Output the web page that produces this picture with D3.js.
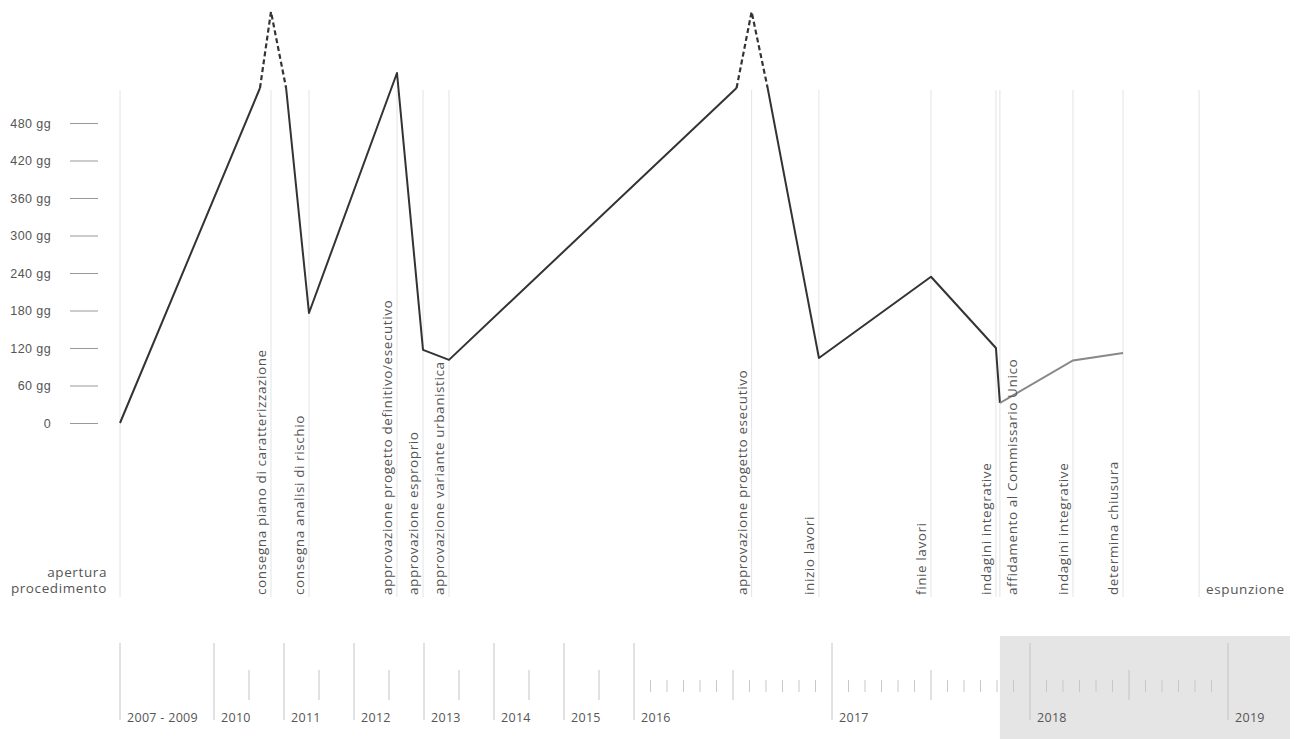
<!DOCTYPE html>
<html>
<head>
<meta charset="utf-8">
<script src="https://cdn.jsdelivr.net/npm/d3@7"></script>
<style>
	body { margin: 0; background: #fff; }
	svg { display: block; font-family: 'Open Sans', 'Noto Sans', sans-serif; }
	.ylab text { font-size: 12.5px; letter-spacing: 0.4px; fill: #555; }
	.event-label { font-size: 13.5px; letter-spacing: 0.6px; fill: #555; }
	.year-label { font-size: 12.5px; letter-spacing: 0.3px; fill: #555; }
</style>
</head>
<body>
<svg id="chart" width="1298" height="739"></svg>
<script>
'use strict';

// year blocks on the bottom timeline
var yearStarts = [2007, 2010, 2011, 2012, 2013, 2014, 2015, 2016, 2017, 2018, 2019, 2020];
var yearLabels = ['2007 - 2009', '2010', '2011', '2012', '2013', '2014', '2015', '2016', '2017', '2018', '2019'];
var monthlyYears = [2016, 2017, 2018];

// events (decimal years)
var eventLabels = ['apertura procedimento', 'consegna piano di caratterizzazione', 'consegna analisi di rischio',
	'approvazione progetto definitivo/esecutivo', 'approvazione esproprio', 'approvazione variante urbanistica',
	'approvazione progetto esecutivo', 'inizio lavori', 'finie lavori', 'indagini integrative',
	'affidamento al Commissario Unico', 'indagini integrative', 'determina chiusura', 'espunzione'];
var eventDates = [2007.0, 2010.814, 2011.357, 2012.614, 2012.986, 2013.357, 2016.594, 2016.934, 2017.5,
	2017.828, 2017.848, 2018.217, 2018.47, 2018.854];

// duration line (days); peaks are out of scale
var durDates = [2007.0, 2010.657, 2010.814, 2011.03, 2011.357, 2012.614, 2012.986, 2013.357, 2016.518,
	2016.594, 2016.675, 2016.934, 2017.5, 2017.828, 2017.848];
var durDays = [0, 536, 658, 536, 176, 560, 117, 101, 536, 658, 536, 104, 234, 120, 32];
var peakIdx = [2, 9];

// ongoing part after the Commissario Unico
var openDates = [2017.848, 2018.217, 2018.47];
var openDays = [32, 100, 112];

var yTicks = [0, 60, 120, 180, 240, 300, 360, 420, 480];

var svg = d3.select('#chart');

// piecewise time scale: older years compressed, 2016+ expanded
function yearSpan(y) {
	if (y === 2007) return 94;
	if (y < 2016) return 70;
	return 198;
}
var xRange = [120];
for (var i = 1; i < yearStarts.length; i++) {
	xRange.push(xRange[i - 1] + yearSpan(yearStarts[i - 1]));
}
var x = d3.scaleLinear().domain(yearStarts).range(xRange);
var y = d3.scaleLinear().domain([0, 480]).range([423, 123]);

var lineTop = 90;
var lineBottom = 597;

// shaded period (commissario)
svg.append('rect')
	.attr('x', x(eventDates[10]))
	.attr('y', 636)
	.attr('width', 1290 - x(eventDates[10]))
	.attr('height', 739 - 636)
	.attr('fill', '#e5e5e5');

// event vertical lines
svg.selectAll('line.event').data(eventDates).enter().append('line')
	.attr('class', 'event')
	.attr('x1', function (d) { return x(d); })
	.attr('x2', function (d) { return x(d); })
	.attr('y1', lineTop)
	.attr('y2', lineBottom)
	.attr('stroke', '#e4e4e4')
	.attr('stroke-width', 1);

// y axis
var yAxis = d3.axisLeft(y).tickValues(yTicks).tickSize(28).tickPadding(19)
	.tickFormat(function (d) { return d === 0 ? '0' : d + ' gg'; });
var yg = svg.append('g').attr('class', 'ylab').attr('transform', 'translate(98,0)').call(yAxis);
yg.select('.domain').remove();
yg.selectAll('.tick line').attr('stroke', '#999');

// duration line
var line = d3.line()
	.x(function (d) { return x(d[0]); })
	.y(function (d) { return y(d[1]); });
var pts = durDates.map(function (d, i) { return [d, durDays[i]]; });

svg.append('path')
	.datum(pts)
	.attr('d', line.defined(function (d, i) { return peakIdx.indexOf(i) < 0; }))
	.attr('fill', 'none')
	.attr('stroke', '#333')
	.attr('stroke-width', 2)
	.attr('stroke-linejoin', 'round');

line.defined(function () { return true; });
peakIdx.forEach(function (p) {
	svg.append('path')
		.datum(pts.slice(p - 1, p + 2))
		.attr('d', line)
		.attr('fill', 'none')
		.attr('stroke', '#333')
		.attr('stroke-width', 2.2)
		.attr('stroke-dasharray', '5,3');
});

svg.append('path')
	.datum(openDates.map(function (d, i) { return [d, openDays[i]]; }))
	.attr('d', line)
	.attr('fill', 'none')
	.attr('stroke', '#888')
	.attr('stroke-width', 2);

// event labels
eventLabels.forEach(function (lab, i) {
	var ex = x(eventDates[i]);
	if (i === 0) {
		var t = svg.append('text').attr('class', 'event-label').attr('text-anchor', 'end');
		t.append('tspan').attr('x', ex - 13).attr('y', 577).text('apertura');
		t.append('tspan').attr('x', ex - 13).attr('y', 593).text('procedimento');
	} else if (i === eventLabels.length - 1) {
		svg.append('text').attr('class', 'event-label')
			.attr('x', ex + 7).attr('y', 594).text(lab);
	} else {
		var dx = lab === 'affidamento al Commissario Unico' ? 17 : -5;
		svg.append('text').attr('class', 'event-label')
			.attr('transform', 'translate(' + (ex + dx) + ',595) rotate(-90)')
			.text(lab);
	}
});

// bottom timeline
var labelStarts = yearStarts.slice(0, yearLabels.length);
svg.selectAll('line.year').data(labelStarts).enter().append('line')
	.attr('x1', function (d) { return x(d); })
	.attr('x2', function (d) { return x(d); })
	.attr('y1', 643).attr('y2', 720)
	.attr('stroke', '#c4c4c4');

svg.selectAll('text.year-label').data(labelStarts).enter().append('text')
	.attr('class', 'year-label')
	.attr('x', function (d) { return x(d) + 7; })
	.attr('y', 722)
	.text(function (d, i) { return yearLabels[i]; });

// mid-year ticks
var midYears = d3.range(2010, 2019);
svg.selectAll('line.mid').data(midYears).enter().append('line')
	.attr('x1', function (d) { return x(d + 0.5); })
	.attr('x2', function (d) { return x(d + 0.5); })
	.attr('y1', 670).attr('y2', 700)
	.attr('stroke', '#c4c4c4');

// month ticks
var months = [];
monthlyYears.forEach(function (yr) {
	for (var m = 1; m < 12; m++) {
		if (m !== 6) months.push(yr + m / 12);
	}
});
svg.selectAll('line.month').data(months).enter().append('line')
	.attr('x1', function (d) { return x(d); })
	.attr('x2', function (d) { return x(d); })
	.attr('y1', 680).attr('y2', 692)
	.attr('stroke', '#c8c8c8');
</script>
</body>
</html>
